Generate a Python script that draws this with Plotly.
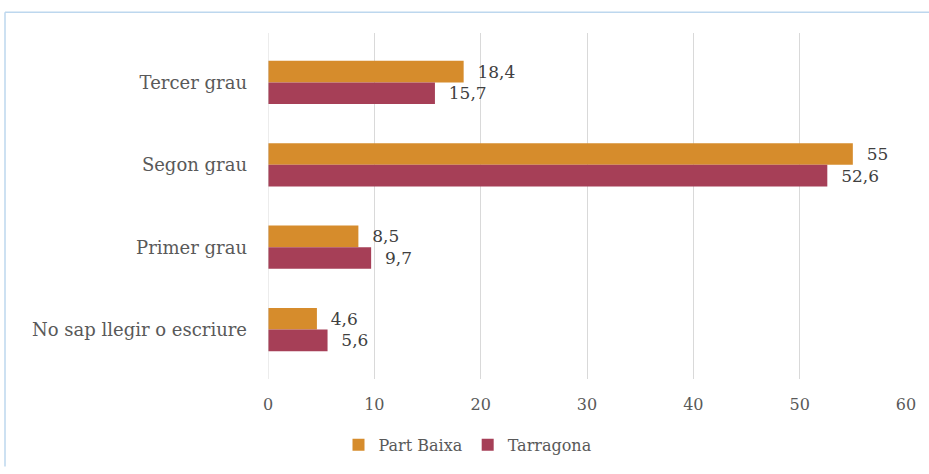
import plotly.graph_objects as go

categories = ["Tercer grau", "Segon grau", "Primer grau", "No sap llegir o escriure"]
part_baixa = [18.4, 55, 8.5, 4.6]
tarragona = [15.7, 52.6, 9.7, 5.6]
x_ticks = [0, 10, 20, 30, 40, 50, 60]

def fmt(v):
    s = f"{v:g}"
    return s.replace(".", ",")

FONT = "DejaVu Serif"
TXT = "#404040"

fig = go.Figure()
for name, vals, color in [("Part Baixa", part_baixa, "#D68C2C"),
                          ("Tarragona", tarragona, "#A63F57")]:
    fig.add_trace(go.Bar(
        name=name, y=categories, x=vals, orientation="h",
        marker=dict(color=color, line=dict(width=0)),
        text=[fmt(v) for v in vals],
        texttemplate="\u00a0\u00a0%{text}",
        textposition="outside", cliponaxis=False,
        textfont=dict(family=FONT, size=17, color=TXT),
    ))

L, R, T, B = 268, 23, 33, 89
W, H = 929, 474
pw, ph = W - L - R, H - T - B

fig.update_layout(
    width=W, height=H,
    margin=dict(l=L, r=R, t=T, b=B),
    paper_bgcolor="white", plot_bgcolor="white",
    barmode="group", bargap=0.474, bargroupgap=0,
    font=dict(family=FONT, size=16, color="#595959"),
    showlegend=True,
    legend=dict(orientation="h", x=(468 - L) / pw, xanchor="center",
                y=(T + ph - 452) / ph, yanchor="middle",
                font=dict(family=FONT, size=16, color="#595959")),
    xaxis=dict(range=[0, 60], tickvals=x_ticks, showgrid=True,
               gridcolor="#D9D9D9", gridwidth=1, zeroline=False,
               showline=False, ticks="", ticklabelstandoff=14,
               tickfont=dict(size=16, color="#595959")),
    yaxis=dict(categoryorder="array", categoryarray=categories,
               range=[3.6, -0.6], showgrid=False, zeroline=False,
               showline=False, ticks="", ticklabelstandoff=20,
               tickfont=dict(size=18, color="#595959")),
)

# zero gridline
fig.add_shape(type="line", xref="x", yref="paper", x0=0, x1=0, y0=0, y1=1,
              line=dict(color="#D9D9D9", width=1))
# outer chart border (top and left, light blue)
px_x = lambda p: (p - L) / pw
px_y = lambda p: (T + ph - p) / ph
fig.add_shape(type="line", xref="paper", yref="paper",
              x0=px_x(5), x1=px_x(929), y0=px_y(12), y1=px_y(12),
              line=dict(color="#BDD7EE", width=1.5))
fig.add_shape(type="line", xref="paper", yref="paper",
              x0=px_x(5), x1=px_x(5), y0=px_y(12), y1=px_y(474),
              line=dict(color="#BDD7EE", width=1.5))

fig.write_html("out.html", config={"displayModeBar": False},
               post_script="document.body.style.margin='0';")
